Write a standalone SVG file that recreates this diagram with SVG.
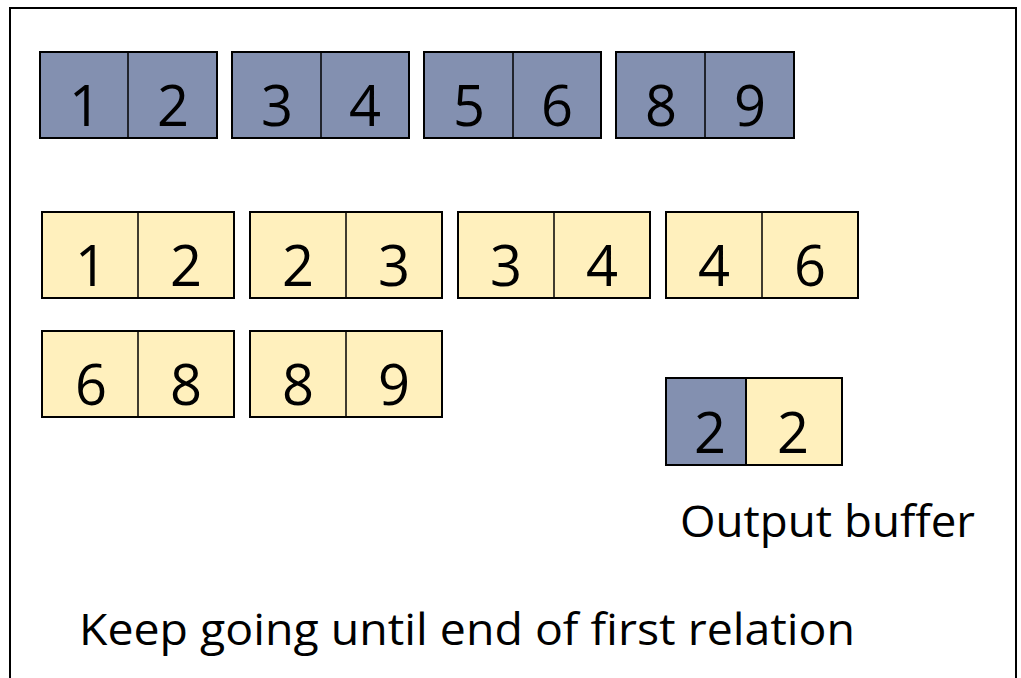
<svg xmlns="http://www.w3.org/2000/svg" width="1021" height="678" viewBox="0 0 1021 678">
  <style>
    .frame { fill: none; stroke: #000; stroke-width: 2; }
    .blue { fill: #8390b0; stroke: #000; stroke-width: 2; }
    .yellow { fill: #fff0bd; stroke: #000; stroke-width: 2; }
    .sep { stroke: #000; stroke-width: 1.5; }
    .num { font-family: "Open Sans", "Liberation Sans", sans-serif; font-size: 56px; fill: #000; text-anchor: middle; }
    .label { font-family: "Open Sans", "Liberation Sans", sans-serif; font-size: 44px; fill: #000; }
  </style>
  <rect width="1021" height="678" fill="#fff"/>
  <path class="frame" d="M10,678 V8 H1016 V678"/>

  <!-- first relation pages -->
  <g id="r1-page1"><rect class="blue" x="40" y="52" width="177" height="86"/><line class="sep" x1="128" y1="52" x2="128" y2="138"/><text class="num" x="85" y="126">1</text><text class="num" x="173" y="126">2</text></g>
  <g id="r1-page2"><rect class="blue" x="232" y="52" width="177" height="86"/><line class="sep" x1="321" y1="52" x2="321" y2="138"/><text class="num" x="277" y="126">3</text><text class="num" x="365" y="126">4</text></g>
  <g id="r1-page3"><rect class="blue" x="424" y="52" width="177" height="86"/><line class="sep" x1="513" y1="52" x2="513" y2="138"/><text class="num" x="469" y="126">5</text><text class="num" x="557" y="126">6</text></g>
  <g id="r1-page4"><rect class="blue" x="616" y="52" width="178" height="86"/><line class="sep" x1="705" y1="52" x2="705" y2="138"/><text class="num" x="661" y="126">8</text><text class="num" x="750" y="126">9</text></g>

  <!-- second relation pages -->
  <g id="r2-page1"><rect class="yellow" x="42" y="212" width="192" height="86"/><line class="sep" x1="138" y1="212" x2="138" y2="298"/><text class="num" x="91" y="286">1</text><text class="num" x="186" y="286">2</text></g>
  <g id="r2-page2"><rect class="yellow" x="250" y="212" width="192" height="86"/><line class="sep" x1="346" y1="212" x2="346" y2="298"/><text class="num" x="298" y="286">2</text><text class="num" x="394" y="286">3</text></g>
  <g id="r2-page3"><rect class="yellow" x="458" y="212" width="192" height="86"/><line class="sep" x1="554" y1="212" x2="554" y2="298"/><text class="num" x="506" y="286">3</text><text class="num" x="602" y="286">4</text></g>
  <g id="r2-page4"><rect class="yellow" x="666" y="212" width="192" height="86"/><line class="sep" x1="762" y1="212" x2="762" y2="298"/><text class="num" x="714" y="286">4</text><text class="num" x="810" y="286">6</text></g>
  <g id="r2-page5"><rect class="yellow" x="42" y="331" width="192" height="86"/><line class="sep" x1="138" y1="331" x2="138" y2="417"/><text class="num" x="91" y="405">6</text><text class="num" x="186" y="405">8</text></g>
  <g id="r2-page6"><rect class="yellow" x="250" y="331" width="192" height="86"/><line class="sep" x1="346" y1="331" x2="346" y2="417"/><text class="num" x="298" y="405">8</text><text class="num" x="394" y="405">9</text></g>

  <!-- output buffer -->
  <g id="output-buffer">
    <rect class="blue" x="666" y="378" width="80" height="87"/>
    <rect class="yellow" x="746" y="378" width="96" height="87"/>
    <text class="num" x="710" y="453">2</text>
    <text class="num" x="793" y="453">2</text>
    <text class="label" x="680" y="537" textLength="295" lengthAdjust="spacingAndGlyphs">Output buffer</text>
  </g>

  <text class="label" x="79" y="645" textLength="776" lengthAdjust="spacingAndGlyphs">Keep going until end of first relation</text>
</svg>
